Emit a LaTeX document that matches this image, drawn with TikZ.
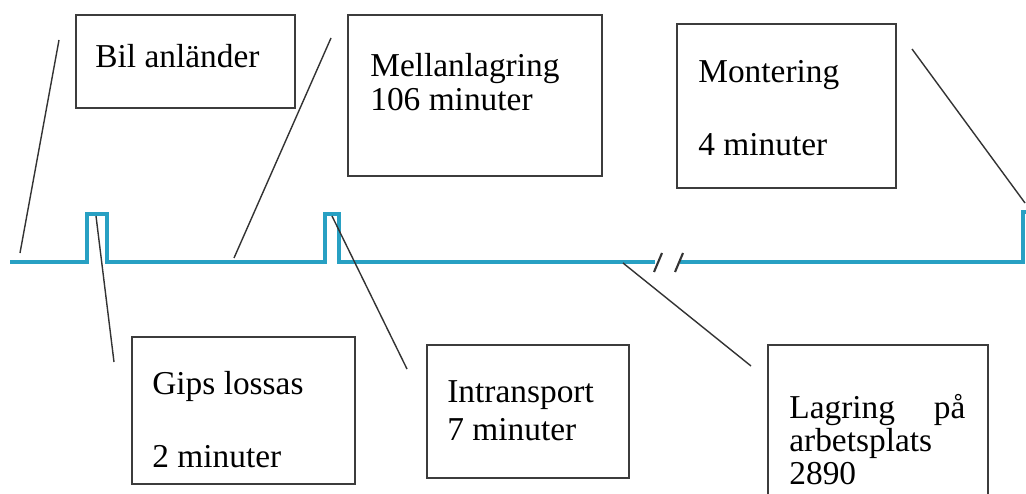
\documentclass[tikz,border=0pt]{standalone}
\usepackage{fontspec}
\setmainfont{Liberation Serif}
\usetikzlibrary{positioning}
\definecolor{flowblue}{RGB}{40,160,195}
\definecolor{boxgray}{RGB}{60,60,60}

\begin{document}
\begin{tikzpicture}[
    x=0.02cm, y=-0.02cm,
    box/.style={rectangle, draw=boxgray, line width=1.1pt, anchor=north west, inner sep=0pt},
    lbl/.style={anchor=base west, inner sep=0pt, font=\fontsize{19}{23}\selectfont},
    flow/.style={flowblue, line width=2.2pt},
    pointer/.style={draw=black!80, line width=0.8pt}
]
    \useasboundingbox (0,0) rectangle (1026,493);

    % boxes
    \node[box, minimum width=4.38cm, minimum height=1.86cm] (bil) at (75,14) {};
    \node[box, minimum width=5.08cm, minimum height=3.22cm] (mellan) at (347,14) {};
    \node[box, minimum width=4.38cm, minimum height=3.28cm] (montering) at (676,23) {};
    \node[box, minimum width=4.46cm, minimum height=2.94cm] (gips) at (131,336) {};
    \node[box, minimum width=4.04cm, minimum height=2.66cm] (intransport) at (426,344) {};
    \node[box, minimum width=4.40cm, minimum height=3.30cm] (lagring) at (767,344) {};

    % texts
    \node[lbl] (bil-t) at (95,68) {Bil anländer};
    \node[lbl] (mellan-t1) at (370,77) {Mellanlagring};
    \node[lbl] (mellan-t2) at (370,111) {106 minuter};
    \node[lbl] (montering-t1) at (698,83) {Montering};
    \node[lbl] (montering-t2) at (698,155) {4 minuter};
    \node[lbl] (gips-t1) at (152,394) {Gips lossas};
    \node[lbl] (gips-t2) at (152,467) {2 minuter};
    \node[lbl] (intransport-t1) at (447,402) {Intransport};
    \node[lbl] (intransport-t2) at (447,440) {7 minuter};
    \node[lbl] (lagring-t1) at (789,418) {\makebox[3.52cm][l]{Lagring\hfill på}};
    \node[lbl] (lagring-t2) at (789,451) {arbetsplats};
    \node[lbl] (lagring-t3) at (789,484) {2890};

    % time line
    \draw[flow] (10,262) -- (87,262) -- (87,214) -- (107,214) -- (107,262)
        -- (325,262) -- (325,214) -- (339,214) -- (339,262) -- (655,262);
    \draw[flow] (680,262) -- (1023,262) -- (1023,212) -- (1030,212);
    \draw[pointer, line width=1.2pt] (654,272) -- (662,253);
    \draw[pointer, line width=1.2pt] (675,272) -- (683,253);

    % pointers
    \coordinate (arrive) at (20,253);
    \coordinate (arrive-end) at (59,40);
    \coordinate (store) at (234,258);
    \coordinate (store-end) at (331,38);
    \coordinate (unload) at (96,216);
    \coordinate (unload-end) at (114,362);
    \coordinate (move) at (332,216);
    \coordinate (move-end) at (407,369);
    \coordinate (site) at (623,263);
    \coordinate (site-end) at (751,366);
    \coordinate (mount) at (1025,203);
    \coordinate (mount-end) at (912,49);

    \draw[pointer] (arrive) -- (arrive-end);
    \draw[pointer] (store) -- (store-end);
    \draw[pointer] (unload) -- (unload-end);
    \draw[pointer] (move) -- (move-end);
    \draw[pointer] (site) -- (site-end);
    \draw[pointer] (mount) -- (mount-end);
\end{tikzpicture}
\end{document}
